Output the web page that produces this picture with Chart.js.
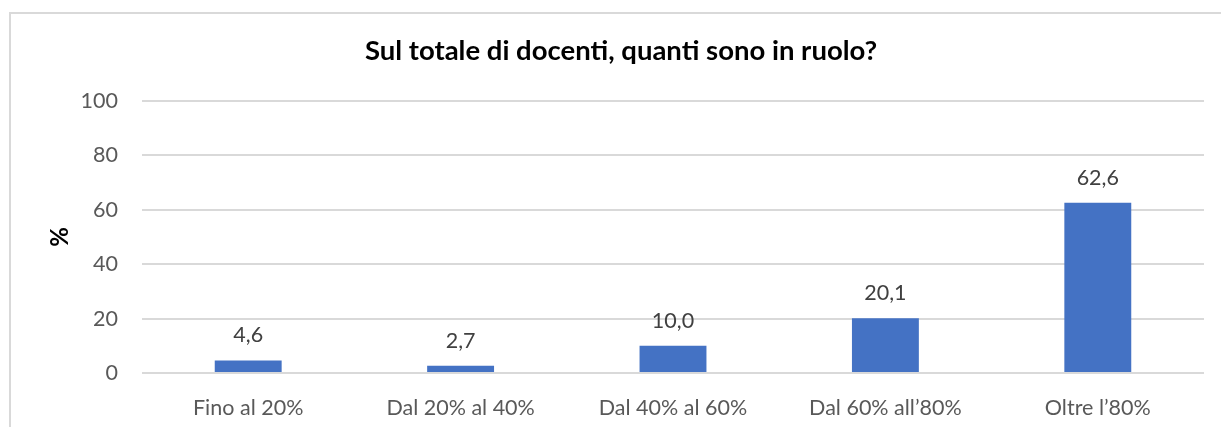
<!DOCTYPE html>
<html>
<head>
<meta charset="utf-8">
<script src="https://cdn.jsdelivr.net/npm/chart.js@4.4.1/dist/chart.umd.min.js"></script>
<style>
    body { margin: 0; background: #fff; overflow: hidden; }
    #frame { position: absolute; left: 9px; top: 12px; width: 1260px; height: 460px; border: 2px solid #d9d9d9; box-sizing: border-box; }
    #wrap { position: absolute; left: 0; top: 0; width: 1221px; height: 427px; }
</style>
</head>
<body>
<div id="frame"></div>
<div id="wrap"><canvas id="myChart" width="1221" height="427"></canvas></div>
<script>
const categorie = ['Fino al 20%', 'Dal 20% al 40%', 'Dal 40% al 60%', 'Dal 60% all\u201980%', 'Oltre l\u201980%'];
const valori = [4.6, 2.7, 10.0, 20.1, 62.6];
const tickY = [0, 20, 40, 60, 80, 100];

const fontName = 'Lato, "Open Sans", sans-serif';

// etichette con la virgola decimale sopra ogni barra
const etichette = {
    id: 'etichette',
    afterDatasetsDraw(chart) {
        const c = chart.ctx;
        const meta = chart.getDatasetMeta(0);
        c.save();
        c.font = '21.5px ' + fontName;
        c.fillStyle = '#404040';
        c.textAlign = 'center';
        c.textBaseline = 'middle';
        meta.data.forEach((bar, i) => {
            c.fillText(valori[i].toFixed(1).replace('.', ','), bar.x, bar.y - 25);
        });
        c.restore();
    }
};

const ctx = document.getElementById('myChart').getContext('2d');
const myChart = new Chart(ctx, {
    type: 'bar',
    data: {
        labels: categorie,
        datasets: [{
            data: valori,
            backgroundColor: '#4472C4',
            borderWidth: 0,
            categoryPercentage: 0.315,
            barPercentage: 1
        }]
    },
    options: {
        responsive: false,
        animation: false,
        layout: { padding: { left: 38, right: 17, top: 0, bottom: 0 } },
        scales: {
            x: {
                grid: { display: false },
                border: { display: false },
                ticks: { color: '#595959', font: { family: fontName, size: 21.5 }, padding: 14, maxRotation: 0 },
                afterFit: (scale) => { scale.height = 54; }
            },
            y: {
                min: 0,
                max: 100,
                afterBuildTicks: (scale) => { scale.ticks = tickY.map(v => ({ value: v })); },
                grid: { color: '#d9d9d9', lineWidth: 2, drawTicks: false },
                border: { display: false },
                ticks: { color: '#595959', font: { family: fontName, size: 21.5 }, padding: 24 },
                title: {
                    display: true,
                    text: '%',
                    color: '#000',
                    font: { family: fontName, size: 24, weight: 'bold' },
                    padding: { top: 8, bottom: 0 }
                },
                afterFit: (scale) => { scale.width = 104; }
            }
        },
        plugins: {
            legend: { display: false },
            tooltip: { enabled: false },
            title: {
                display: true,
                text: 'Sul totale di docenti, quanti sono in ruolo?',
                color: '#000',
                font: { family: fontName, size: 27.5, weight: 'bold' },
                padding: { top: 35, bottom: 33 }
            }
        }
    },
    plugins: [etichette]
});
</script>
</body>
</html>
